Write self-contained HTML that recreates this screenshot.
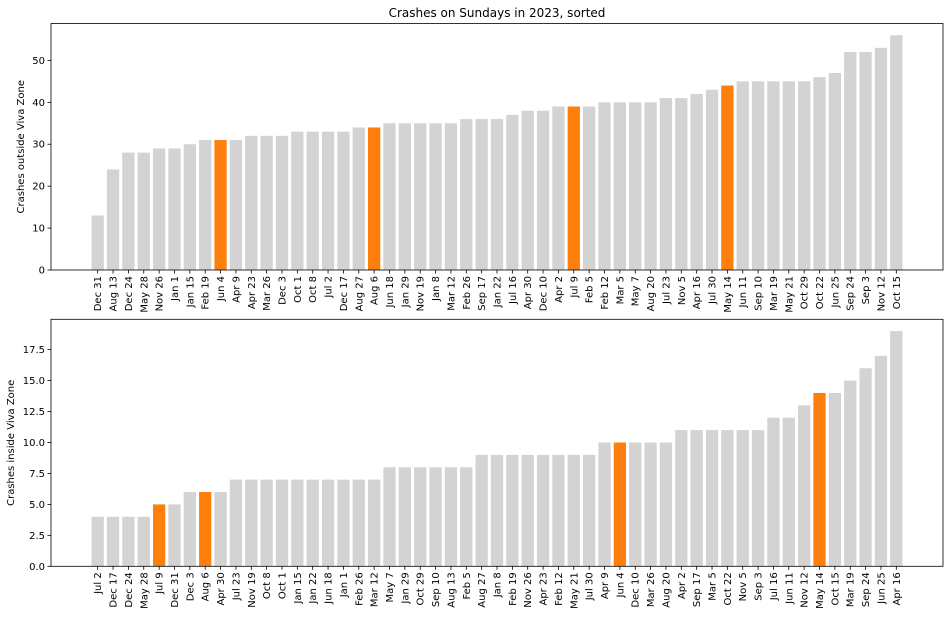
<!DOCTYPE html>
<html><head><meta charset="utf-8"><style>
html,body{margin:0;padding:0;background:#fff;}
svg{display:block;font-family:"DejaVu Sans","Liberation Sans",sans-serif;}
</style></head><body>
<svg id="chart" width="950" height="617" viewBox="0 0 950 617"></svg>
<script>
const topCategories = ["Dec 31","Aug 13","Dec 24","May 28","Nov 26","Jan 1","Jan 15","Feb 19","Jun 4","Apr 9","Apr 23","Mar 26","Dec 3","Oct 1","Oct 8","Jul 2","Dec 17","Aug 27","Aug 6","Jun 18","Jan 29","Nov 19","Jan 8","Mar 12","Feb 26","Sep 17","Jan 22","Jul 16","Apr 30","Dec 10","Apr 2","Jul 9","Feb 5","Feb 12","Mar 5","May 7","Aug 20","Jul 23","Nov 5","Apr 16","Jul 30","May 14","Jun 11","Sep 10","Mar 19","May 21","Oct 29","Oct 22","Jun 25","Sep 24","Sep 3","Nov 12","Oct 15"];
const topValues = [13,24,28,28,29,29,30,31,31,31,32,32,32,33,33,33,33,34,34,35,35,35,35,35,36,36,36,37,38,38,39,39,39,40,40,40,40,41,41,42,43,44,45,45,45,45,45,46,47,52,52,53,56];
const topTicks = [0,10,20,30,40,50];
const topTickLabels = ["0","10","20","30","40","50"];
const bottomCategories = ["Jul 2","Dec 17","Dec 24","May 28","Jul 9","Dec 31","Dec 3","Aug 6","Apr 30","Jul 23","Nov 19","Oct 8","Oct 1","Jan 15","Jan 22","Jun 18","Jan 1","Feb 26","Mar 12","May 7","Jan 29","Oct 29","Sep 10","Aug 13","Feb 5","Aug 27","Jan 8","Feb 19","Nov 26","Apr 23","Feb 12","May 21","Jul 30","Apr 9","Jun 4","Dec 10","Mar 26","Aug 20","Apr 2","Sep 17","Mar 5","Oct 22","Nov 5","Sep 3","Jul 16","Jun 11","Nov 12","May 14","Oct 15","Mar 19","Sep 24","Jun 25","Apr 16"];
const bottomValues = [4,4,4,4,5,5,6,6,6,7,7,7,7,7,7,7,7,7,7,8,8,8,8,8,8,9,9,9,9,9,9,9,9,10,10,10,10,10,11,11,11,11,11,11,12,12,13,14,14,15,16,17,19];
const bottomTicks = [0,2.5,5,7.5,10,12.5,15,17.5];
const bottomTickLabels = ["0.0","2.5","5.0","7.5","10.0","12.5","15.0","17.5"];
const highlighted = ["Jun 4","Aug 6","Jul 9","May 14"];

const svg = document.getElementById('chart');
const NS = 'http://www.w3.org/2000/svg';
function mk(tag, attrs, parent){const e=document.createElementNS(NS,tag);for(const k in attrs)e.setAttribute(k,attrs[k]);(parent||svg).appendChild(e);return e;}

function drawPanel(cfg){
  const {left,right,top,bottom,cats,vals,ticks,tickLabels,ylabel,name} = cfg;
  const n = cats.length;
  const xmin = -0.4 - 0.05*(n-1+0.8), xmax = n-1+0.4 + 0.05*(n-1+0.8);
  const ymax = Math.max(...vals)*1.05;
  const xs = v => left + (v - xmin)/(xmax - xmin)*(right-left);
  const ys = v => bottom - v/ymax*(bottom-top);
  const g = mk('g',{});
  
  
  const bw = 0.8/(xmax-xmin)*(right-left);
  vals.forEach((v,i)=>{
    const r = mk('rect',{x:xs(i)-bw/2,y:ys(v),width:bw,height:ys(0)-ys(v),fill:highlighted.includes(cats[i])?'#ff7f0e':'#d3d3d3'},g);
    
    
    mk('line',{x1:xs(i),x2:xs(i),y1:bottom,y2:bottom+3.5,stroke:'#000','stroke-width':0.8},g);
    const t = mk('text',{x:0,y:0,'font-size':10,'text-anchor':'end',fill:'#000',transform:`translate(${xs(i)+3.5},${bottom+6}) rotate(-90)`},g);
    t.textContent = cats[i];
    
    
  });
  ticks.forEach((v,i)=>{
    mk('line',{x1:left-3.5,x2:left,y1:ys(v),y2:ys(v),stroke:'#000','stroke-width':0.8},g);
    const t = mk('text',{x:left-6,y:ys(v)+3.5,'font-size':10,'text-anchor':'end',fill:'#000'},g);
    t.textContent = tickLabels[i];
    
    
  });
  const fr = mk('rect',{x:left,y:top,width:right-left,height:bottom-top,fill:'none',stroke:'#000','stroke-width':0.8},g);
  
  
  const yl = mk('text',{x:0,y:0,'font-size':10,'text-anchor':'middle',fill:'#000',transform:`translate(${cfg.ylabelX},${(top+bottom)/2}) rotate(-90)`},g);
  yl.textContent = ylabel;
  
  
}

const title = mk('text',{x:497,y:17,'font-size':12,'text-anchor':'middle',fill:'#000'});
title.textContent = 'Crashes on Sundays in 2023, sorted';



drawPanel({left:51,right:943,top:23.5,bottom:270,cats:topCategories,vals:topValues,ticks:topTicks,tickLabels:topTickLabels,ylabel:'Crashes outside Viva Zone',ylabelX:24,name:'top-panel'});
drawPanel({left:51,right:943,top:319.3,bottom:566.3,cats:bottomCategories,vals:bottomValues,ticks:bottomTicks,tickLabels:bottomTickLabels,ylabel:'Crashes inside Viva Zone',ylabelX:14,name:'bottom-panel'});
</script>
</body></html>
